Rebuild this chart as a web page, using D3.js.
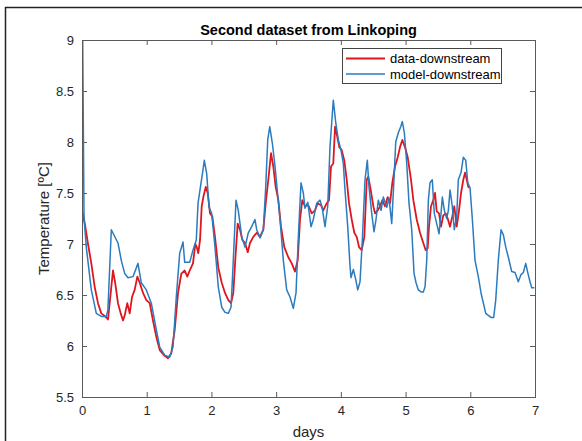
<!DOCTYPE html>
<html>
<head>
<meta charset="utf-8">
<script src="https://cdn.jsdelivr.net/npm/d3@7"></script>
<style>
  html, body { margin: 0; padding: 0; background: #fff; }
  svg { display: block; font-family: "Liberation Sans", Arial, Helvetica, sans-serif; }
</style>
</head>
<body>
<script>
const title = "Second dataset from Linkoping";
const xLabel = "days";
const yLabel = "Temperature [ºC]";
const seriesNames = ["data-downstream", "model-downstream"];
const xTicks = [0, 1, 2, 3, 4, 5, 6, 7];
const yTicks = [5.5, 6, 6.5, 7, 7.5, 8, 8.5, 9];

const dataDownstream = [
[0,7.2],[0.015,7.3],[0.051,7.17],[0.093,7.0],[0.144,6.81],[0.196,6.58],[0.247,6.42],[0.298,6.32],[0.360,6.29],[0.402,6.26],[0.437,6.48],[0.479,6.74],[0.515,6.61],[0.556,6.42],[0.598,6.32],[0.634,6.25],[0.660,6.30],[0.700,6.42],[0.737,6.32],[0.773,6.48],[0.814,6.55],[0.855,6.68],[0.892,6.62],[0.943,6.52],[0.994,6.45],[1.046,6.42],[1.097,6.25],[1.148,6.09],[1.201,5.96],[1.267,5.91],[1.329,5.88],[1.380,5.93],[1.433,6.16],[1.484,6.52],[1.535,6.71],[1.587,6.74],[1.627,6.68],[1.664,6.74],[1.715,6.81],[1.751,7.0],[1.773,6.97],[1.797,6.91],[1.824,7.04],[1.850,7.37],[1.875,7.46],[1.912,7.56],[1.943,7.5],[1.978,7.3],[2.014,7.27],[2.055,7.07],[2.106,6.77],[2.159,6.62],[2.210,6.52],[2.261,6.45],[2.303,6.42],[2.338,6.52],[2.375,6.91],[2.406,7.2],[2.442,7.14],[2.477,7.04],[2.519,7.01],[2.561,6.92],[2.596,7.01],[2.647,7.07],[2.700,7.11],[2.751,7.07],[2.802,7.14],[2.839,7.4],[2.879,7.63],[2.921,7.89],[2.956,7.76],[2.993,7.56],[3.034,7.43],[3.075,7.17],[3.126,6.97],[3.188,6.87],[3.241,6.81],[3.292,6.73],[3.333,6.84],[3.369,7.24],[3.404,7.43],[3.446,7.37],[3.497,7.38],[3.550,7.3],[3.601,7.33],[3.642,7.40],[3.693,7.38],[3.729,7.33],[3.782,7.40],[3.817,7.43],[3.848,7.76],[3.883,7.79],[3.910,8.15],[3.945,8.05],[3.976,7.95],[4.013,7.92],[4.053,7.82],[4.091,7.63],[4.126,7.40],[4.168,7.24],[4.208,7.11],[4.245,7.07],[4.281,6.97],[4.322,6.94],[4.363,7.07],[4.400,7.63],[4.424,7.66],[4.461,7.53],[4.502,7.37],[4.528,7.30],[4.570,7.33],[4.605,7.37],[4.641,7.43],[4.682,7.37],[4.724,7.46],[4.760,7.40],[4.795,7.60],[4.837,7.76],[4.879,7.85],[4.914,7.95],[4.950,8.02],[4.991,7.95],[5.033,7.85],[5.084,7.63],[5.120,7.43],[5.172,7.24],[5.223,7.11],[5.274,7.01],[5.311,6.94],[5.342,6.96],[5.362,7.17],[5.393,7.37],[5.429,7.43],[5.455,7.50],[5.481,7.32],[5.517,7.30],[5.548,7.17],[5.583,7.28],[5.620,7.30],[5.651,7.25],[5.687,7.17],[5.722,7.27],[5.753,7.37],[5.790,7.17],[5.826,7.33],[5.857,7.50],[5.892,7.63],[5.919,7.70],[5.945,7.63],[5.970,7.56],[5.985,7.55]
];

const modelDownstream = [
[0.005,9.5],[0.02,8.2],[0.031,7.26],[0.066,6.97],[0.144,6.55],[0.221,6.32],[0.298,6.29],[0.376,6.29],[0.40,6.35],[0.453,7.14],[0.556,7.01],[0.607,6.84],[0.660,6.71],[0.711,6.67],[0.788,6.68],[0.865,6.81],[0.916,6.62],[0.994,6.55],[1.071,6.42],[1.148,6.16],[1.201,5.99],[1.278,5.91],[1.355,5.89],[1.406,5.99],[1.457,6.48],[1.510,6.91],[1.561,7.02],[1.587,6.82],[1.664,6.82],[1.715,6.94],[1.766,7.04],[1.793,7.40],[1.870,7.73],[1.890,7.82],[1.927,7.69],[1.963,7.36],[2.004,7.30],[2.055,6.97],[2.106,6.58],[2.159,6.38],[2.210,6.33],[2.261,6.32],[2.303,6.38],[2.338,6.84],[2.380,7.43],[2.415,7.33],[2.468,7.07],[2.519,6.97],[2.570,7.11],[2.622,7.17],[2.673,7.24],[2.700,7.14],[2.751,7.06],[2.802,7.14],[2.839,7.56],[2.870,8.02],[2.901,8.15],[2.941,7.99],[2.983,7.76],[3.060,7.24],[3.111,6.84],[3.163,6.55],[3.214,6.48],[3.265,6.37],[3.307,6.52],[3.343,7.07],[3.384,7.60],[3.420,7.50],[3.446,7.35],[3.488,7.41],[3.539,7.17],[3.574,7.24],[3.627,7.40],[3.678,7.43],[3.713,7.35],[3.755,7.17],[3.797,7.37],[3.832,7.95],[3.883,8.41],[3.921,8.19],[3.961,8.02],[4.002,7.92],[4.038,7.79],[4.064,7.53],[4.106,7.17],[4.142,6.78],[4.157,6.67],[4.193,6.75],[4.230,6.65],[4.261,6.55],[4.296,6.63],[4.332,7.04],[4.373,7.63],[4.409,7.82],[4.435,7.56],[4.477,7.30],[4.512,7.12],[4.543,7.24],[4.579,7.43],[4.621,7.33],[4.656,7.46],[4.709,7.36],[4.744,7.45],[4.786,7.20],[4.826,7.70],[4.848,8.00],[4.888,8.09],[4.925,8.15],[4.950,8.20],[4.981,8.09],[5.018,7.79],[5.053,7.40],[5.095,7.14],[5.131,6.71],[5.162,6.62],[5.197,6.55],[5.239,6.53],[5.274,6.53],[5.301,6.58],[5.327,6.84],[5.352,7.43],[5.378,7.60],[5.413,7.63],[5.444,7.30],[5.481,7.20],[5.517,7.10],[5.548,7.30],[5.568,7.46],[5.599,7.33],[5.636,7.25],[5.661,7.33],[5.687,7.53],[5.722,7.37],[5.753,7.14],[5.790,7.27],[5.815,7.63],[5.857,7.70],[5.892,7.85],[5.930,7.82],[5.961,7.60],[5.996,7.55],[6.032,7.24],[6.073,6.84],[6.124,6.68],[6.166,6.52],[6.202,6.42],[6.239,6.32],[6.279,6.30],[6.321,6.28],[6.362,6.28],[6.393,6.45],[6.433,6.84],[6.475,7.14],[6.511,7.09],[6.548,6.97],[6.588,6.87],[6.640,6.73],[6.691,6.72],[6.742,6.63],[6.784,6.70],[6.820,6.72],[6.857,6.81],[6.888,6.72],[6.923,6.63],[6.950,6.57],[6.990,6.57]
];

const colors = ["#e0161e", "#2b7bbf"];

const W = 582, H = 441;
const m = { left: 82, right: 535, top: 40, bottom: 397 };

const svg = d3.select("body").append("svg").attr("width", W).attr("height", H);

// outer figure frame (partially visible)
svg.append("path")
  .attr("d", `M5.5,${H} L5.5,7.5 L${W},7.5`)
  .attr("fill", "none").attr("stroke", "#222").attr("stroke-width", 1.5);

const x = d3.scaleLinear().domain([0, 7]).range([m.left, m.right]);
const y = d3.scaleLinear().domain([5.5, 9]).range([m.bottom, m.top]);

svg.append("defs").append("clipPath").attr("id", "clip")
  .append("rect").attr("x", m.left).attr("y", m.top)
  .attr("width", m.right - m.left).attr("height", m.bottom - m.top);

const axisColor = "#5a5a5a";
const textColor = "#262626";
const tickFont = 13;

function styleAxis(g, showText) {
  g.select(".domain").remove();
  g.selectAll(".tick line").attr("stroke", axisColor).attr("stroke-width", 1);
  g.selectAll(".tick text").attr("fill", textColor).attr("font-size", tickFont)
    .attr("font-family", "Liberation Sans, Arial, sans-serif");
  if (!showText) g.selectAll(".tick text").remove();
}

const fmt = d3.format("");
// bottom
svg.append("g").attr("transform", `translate(0,${m.bottom})`)
  .call(d3.axisBottom(x).tickValues(xTicks).tickSizeInner(-5).tickSizeOuter(0).tickPadding(9).tickFormat(fmt))
  .call(g => styleAxis(g, true));
// top
svg.append("g").attr("transform", `translate(0,${m.top})`)
  .call(d3.axisTop(x).tickValues(xTicks).tickSizeInner(-5).tickSizeOuter(0))
  .call(g => styleAxis(g, false));
// left
svg.append("g").attr("transform", `translate(${m.left},0)`)
  .call(d3.axisLeft(y).tickValues(yTicks).tickSizeInner(-5).tickSizeOuter(0).tickPadding(8).tickFormat(fmt))
  .call(g => styleAxis(g, true));
// right
svg.append("g").attr("transform", `translate(${m.right},0)`)
  .call(d3.axisRight(y).tickValues(yTicks).tickSizeInner(-5).tickSizeOuter(0))
  .call(g => styleAxis(g, false));

// lines
const line = d3.line().x(d => x(d[0])).y(d => y(d[1]));
const plot = svg.append("g").attr("clip-path", "url(#clip)");
plot.append("path").datum(dataDownstream).attr("d", line)
  .attr("fill", "none").attr("stroke", colors[0]).attr("stroke-width", 1.8)
  .attr("stroke-linejoin", "round");
plot.append("path").datum(modelDownstream).attr("d", line)
  .attr("fill", "none").attr("stroke", colors[1]).attr("stroke-width", 1.5)
  .attr("stroke-linejoin", "round");

// plot box
svg.append("rect").attr("x", m.left + 0.5).attr("y", m.top + 0.5)
  .attr("width", m.right - m.left).attr("height", m.bottom - m.top)
  .attr("fill", "none").attr("stroke", axisColor).attr("stroke-width", 1);

// title
svg.append("text").attr("x", (m.left + m.right) / 2).attr("y", 35)
  .attr("text-anchor", "middle").attr("font-size", 14.5).attr("font-weight", "bold")
  .attr("fill", "#000").text(title);

// x label
svg.append("text").attr("x", (m.left + m.right) / 2).attr("y", 437)
  .attr("text-anchor", "middle").attr("font-size", 15).attr("fill", textColor).text(xLabel);

// y label
svg.append("text").attr("transform", `translate(49,${(m.top + m.bottom) / 2}) rotate(-90)`)
  .attr("text-anchor", "middle").attr("font-size", 15).attr("fill", textColor).text(yLabel);

// legend
const lg = svg.append("g");
lg.append("rect").attr("x", 342.5).attr("y", 48.5).attr("width", 159).attr("height", 35)
  .attr("fill", "#fff").attr("stroke", "#444").attr("stroke-width", 1);
seriesNames.forEach((name, i) => {
  const yy = 58.5 + i * 15.5;
  lg.append("line").attr("x1", 346).attr("x2", 385).attr("y1", yy).attr("y2", yy)
    .attr("stroke", colors[i]).attr("stroke-width", i === 0 ? 1.8 : 1.5);
  lg.append("text").attr("x", 390).attr("y", yy + 4.5).attr("font-size", 13)
    .attr("fill", "#000").text(name);
});
</script>
</body>
</html>
